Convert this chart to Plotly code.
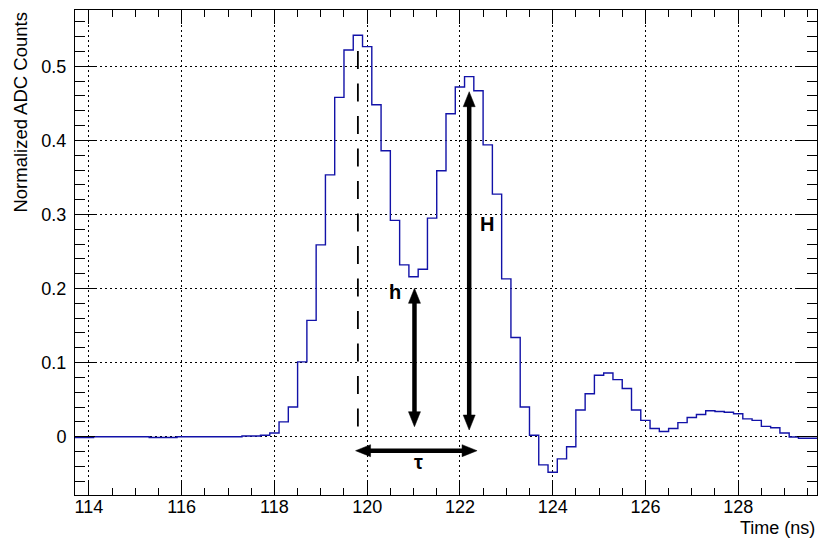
import plotly.graph_objects as go

# ——— histogram data (0.2 ns bins starting at 113.7 ns) ———
bin_start = 113.7
bin_width = 0.2
counts = [
    -0.001, -0.001, 0.0, 0.0, 0.0, 0.0, 0.0, 0.0, -0.001, -0.001,
    -0.001, 0.0, 0.0, 0.0, 0.0, 0.0, 0.0, 0.0, 0.001, 0.001,
    0.002, 0.005, 0.020, 0.040, 0.101, 0.157, 0.259, 0.3535, 0.458, 0.522,
    0.542, 0.5265, 0.448, 0.386, 0.292, 0.232, 0.216, 0.226, 0.295, 0.359,
    0.436, 0.472, 0.486, 0.467, 0.394, 0.3275, 0.213, 0.134, 0.040, 0.002,
    -0.038, -0.048, -0.030, -0.0135, 0.036, 0.058, 0.083, 0.086, 0.077, 0.065,
    0.036, 0.022, 0.011, 0.007, 0.011, 0.019, 0.026, 0.030, 0.035, 0.034,
    0.033, 0.031, 0.024, 0.022, 0.014, 0.012, 0.005, -0.0005, -0.002, -0.002,
]

# ——— axis ranges ———
X_RANGE = [113.7, 129.7]
Y_RANGE = [-0.0787, 0.576]
PLOT_W, PLOT_H = 742, 485

# ——— annotation markers (peak position, h, H, tau) ———
peak_t = 119.8
peak_line = (0.012, 0.5207)
h_arrow = (121.02, 0.2003, 121.02, 0.0135)
H_arrow = (122.20, 0.4657, 122.20, 0.009)
tau_arrow = (119.75, -0.0189, 122.37, -0.0189)
labels = [("h", 120.61, 0.1953), ("H", 122.59, 0.2875), ("τ", 121.10, -0.0342)]

FONT = "Liberation Sans, Arial, Helvetica, sans-serif"

edges = [bin_start + bin_width * i for i in range(len(counts) + 1)]
steps = counts + [counts[-1]]

fig = go.Figure(go.Scatter(
    x=edges, y=steps, mode="lines", line_shape="hv",
    line=dict(color="#1212a8", width=1.4), hoverinfo="skip",
))

dx_px = (X_RANGE[1] - X_RANGE[0]) / PLOT_W
dy_px = (Y_RANGE[1] - Y_RANGE[0]) / PLOT_H


def arrow(x0, y0, x1, y1, width=4.5, head_len=15, head_w=12):
    """double headed arrow built from a line and two filled triangles"""
    px0, py0 = x0 / dx_px, y0 / dy_px
    px1, py1 = x1 / dx_px, y1 / dy_px
    L = ((px1 - px0) ** 2 + (py1 - py0) ** 2) ** 0.5
    ux, uy = (px1 - px0) / L, (py1 - py0) / L
    nx, ny = -uy, ux
    shapes = []

    def head(tx, ty, sx, sy):
        bx, by = tx - sx * head_len, ty - sy * head_len
        pts = [(tx, ty),
               (bx + nx * head_w / 2, by + ny * head_w / 2),
               (bx - nx * head_w / 2, by - ny * head_w / 2)]
        path = "M " + " L ".join(f"{a * dx_px},{b * dy_px}" for a, b in pts) + " Z"
        return dict(type="path", path=path, xref="x", yref="y",
                    fillcolor="black", line=dict(color="black", width=0.5))

    shapes.append(head(px1, py1, ux, uy))
    shapes.append(head(px0, py0, -ux, -uy))
    sx0, sy0 = px0 + ux * head_len * 0.9, py0 + uy * head_len * 0.9
    sx1, sy1 = px1 - ux * head_len * 0.9, py1 - uy * head_len * 0.9
    shapes.append(dict(type="line", xref="x", yref="y",
                       x0=sx0 * dx_px, y0=sy0 * dy_px, x1=sx1 * dx_px, y1=sy1 * dy_px,
                       line=dict(color="black", width=width)))
    return shapes


shapes = [dict(type="line", xref="x", yref="y",
               x0=peak_t, x1=peak_t, y0=peak_line[1], y1=peak_line[0],
               line=dict(color="black", width=1.8, dash="18px,14.5px"))]
for a in (h_arrow, H_arrow, tau_arrow):
    shapes += arrow(*a)

annotations = [
    dict(text=t, x=x, y=y, xref="x", yref="y", showarrow=False,
         font=dict(family=FONT, size=20, color="black", weight="bold"))
    for t, x, y in labels
]
annotations += [
    dict(text="Normalized ADC Counts", xref="paper", yref="paper",
         x=-0.074, y=1.0, xanchor="center", yanchor="top", textangle=-90,
         showarrow=False, font=dict(family=FONT, size=18.5, color="black")),
    dict(text="Time (ns)", xref="paper", yref="paper",
         x=1.0, y=-0.068, xanchor="right", yanchor="middle",
         showarrow=False, font=dict(family=FONT, size=18, color="black")),
]

axis_common = dict(
    showline=True, linecolor="black", linewidth=1, mirror="allticks",
    ticks="inside", tickcolor="black", tickwidth=1, automargin=False,
    showgrid=True, gridcolor="black", gridwidth=1, griddash="2px,3px",
    zeroline=False, tickfont=dict(family=FONT, size=18, color="black"),
)

# the page body keeps its default 8px margin, so the figure starts 8px in;
# it is made 8px smaller and the left/top margins reduced to match
fig.update_layout(
    width=822, height=536,
    margin=dict(l=67, r=13, t=2, b=49),
    paper_bgcolor="white", plot_bgcolor="white",
    showlegend=False,
    shapes=shapes, annotations=annotations,
    xaxis=dict(range=X_RANGE, tick0=114, dtick=2, ticklen=14,
               ticklabelstandoff=-5,
               minor=dict(dtick=0.5, tick0=114, ticklen=7, ticks="inside",
                          tickcolor="black", showgrid=False),
               **axis_common),
    yaxis=dict(range=Y_RANGE, tick0=0, dtick=0.1, ticklen=20,
               ticklabelstandoff=4,
               minor=dict(dtick=0.02, tick0=0, ticklen=10, ticks="inside",
                          tickcolor="black", showgrid=False),
               **axis_common),
)

fig.write_html("out.html")
